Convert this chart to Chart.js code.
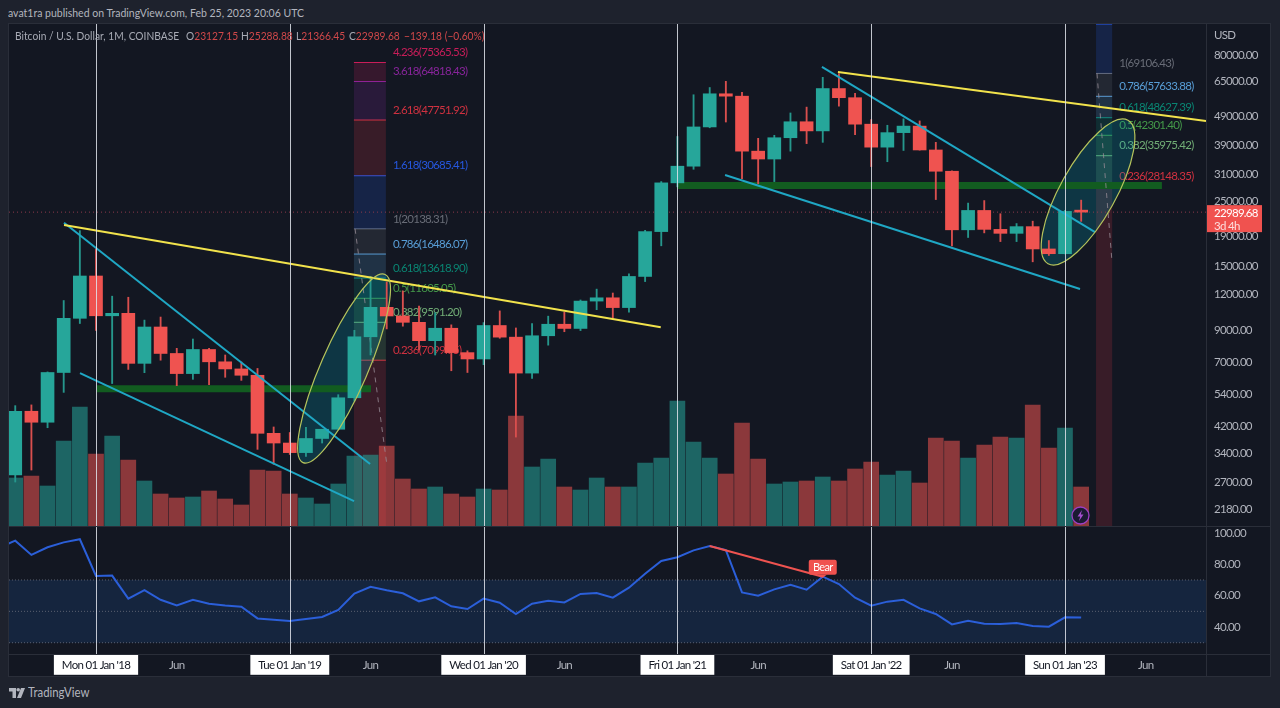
<!DOCTYPE html>
<html>
<head>
<meta charset="utf-8">
<title>Bitcoin / U.S. Dollar</title>
<script src="https://cdn.jsdelivr.net/npm/chart.js@4"></script>
<style>
    html, body { margin: 0; padding: 0; width: 1280px; height: 708px; overflow: hidden; background: #1e222d; font-family: "Lato", sans-serif; }
    #frame { position: absolute; left: 8px; top: 23px; width: 1263px; height: 654px; background: #131722; border: 1px solid #2a2e39; box-sizing: border-box; }
    canvas { position: absolute; }
    #publisher { position: absolute; left: 8px; top: 5px; font-size: 12px; color: #b2b5be; white-space: nowrap; transform: scaleX(0.875); transform-origin: left; }
    #legend { position: absolute; left: 15px; top: 29px; font-size: 11.5px; color: #a8abb5; white-space: nowrap; }
    #legend span { position: absolute; top: 0; transform: scaleX(0.89); transform-origin: left; }
    #legend i { font-style: normal; color: #d0484a; }
    .rule { position: absolute; background: #2a2e39; }
    #brand { position: absolute; left: 28px; top: 685px; font-size: 12.5px; color: #b2b5be; transform: scaleX(0.91); transform-origin: left; }
    #logo { position: absolute; left: 9px; top: 688px; }
    #bolt { position: absolute; left: 1071px; top: 506px; }
</style>
</head>
<body>
<div id="frame"></div>
<div id="publisher">avat1ra published on TradingView.com, Feb 25, 2023 20:06 UTC</div>
<canvas id="priceChart" width="1263" height="502" style="left:9px;top:24px"></canvas>
<canvas id="rsiChart" width="1263" height="150" style="left:9px;top:527px"></canvas>
<div class="rule" style="left:9px;top:526px;width:1262px;height:1px"></div>
<div class="rule" style="left:9px;top:654px;width:1262px;height:1px"></div>
<div class="rule" style="left:1206px;top:24px;width:1px;height:652px"></div>
<div id="legend">
    <span style="left:0">Bitcoin / U.S. Dollar, 1M, COINBASE</span>
    <span style="left:171px">O<i>23127.15</i></span>
    <span style="left:226px">H<i>25288.88</i></span>
    <span style="left:281px">L<i>21366.45</i></span>
    <span style="left:334px">C<i>22989.68</i></span>
    <span style="left:389px"><i>−139.18 (−0.60%)</i></span>
</div>
<svg id="bolt" width="19" height="19" viewBox="0 0 19 19">
    <circle cx="9.5" cy="9.5" r="8.5" fill="#1b1a33" stroke="#9c3fc4" stroke-width="1.3"/>
    <path d="M11 4 L6.5 10.5 H9.2 L8 15 L12.5 8.5 H9.8 Z" fill="#a64fd0"/>
</svg>
<svg id="logo" width="16" height="10" viewBox="0 0 16 10">
    <path d="M0 0 H7 V10 H3.5 V3.5 H0 Z" fill="#b2b5be"/>
    <circle cx="9.2" cy="1.8" r="1.8" fill="#b2b5be"/>
    <path d="M12 0 H16 L12 10 H8 Z" fill="#b2b5be"/>
</svg>
<div id="brand">TradingView</div>

<script>
const months = ["Aug 17", "Sep 17", "Oct 17", "Nov 17", "Dec 17", "Jan 18", "Feb 18", "Mar 18", "Apr 18", "May 18", "Jun 18", "Jul 18", "Aug 18", "Sep 18", "Oct 18", "Nov 18", "Dec 18", "Jan 19", "Feb 19", "Mar 19", "Apr 19", "May 19", "Jun 19", "Jul 19", "Aug 19", "Sep 19", "Oct 19", "Nov 19", "Dec 19", "Jan 20", "Feb 20", "Mar 20", "Apr 20", "May 20", "Jun 20", "Jul 20", "Aug 20", "Sep 20", "Oct 20", "Nov 20", "Dec 20", "Jan 21", "Feb 21", "Mar 21", "Apr 21", "May 21", "Jun 21", "Jul 21", "Aug 21", "Sep 21", "Oct 21", "Nov 21", "Dec 21", "Jan 22", "Feb 22", "Mar 22", "Apr 22", "May 22", "Jun 22", "Jul 22", "Aug 22", "Sep 22", "Oct 22", "Nov 22", "Dec 22", "Jan 23", "Feb 23"];
const opens = [2855, 4735, 4340, 6440, 9900, 13850, 10100, 10300, 6925, 9240, 7490, 6385, 7730, 7010, 6625, 6300, 3975, 3680, 3410, 3815, 4105, 5270, 8550, 10800, 10085, 9590, 8290, 9150, 7540, 7170, 9350, 8525, 6410, 8620, 9445, 9135, 11350, 11650, 10780, 13800, 19700, 29000, 33100, 45200, 58800, 57700, 37300, 35040, 41490, 47100, 43800, 61300, 57000, 46200, 38500, 43200, 45500, 37650, 31800, 19980, 23300, 20050, 19430, 20490, 17165, 16530, 23127.15];
const highs = [4950, 4980, 6470, 11400, 19850, 17170, 11800, 11700, 9760, 10000, 7800, 8400, 7800, 7400, 7000, 6650, 4180, 4000, 4170, 4105, 5400, 9000, 13800, 13200, 12300, 10900, 10350, 9400, 7650, 9570, 10500, 9170, 9500, 10070, 10400, 11450, 12480, 12100, 14100, 19900, 29300, 41900, 58350, 61800, 64900, 59500, 41300, 42300, 50500, 52900, 67000, 69000, 59000, 47900, 45800, 48200, 47400, 40000, 31900, 24700, 25200, 22700, 21000, 21400, 18350, 23300, 25288.88];
const lows = [2700, 2970, 4155, 5500, 9500, 9000, 5900, 6600, 6430, 7100, 5800, 6100, 5850, 6200, 6050, 3500, 3110, 3360, 3310, 3680, 4105, 5130, 7400, 9100, 9300, 7700, 7400, 6530, 6440, 6850, 8450, 3858, 6150, 8000, 8900, 8980, 10600, 9900, 10400, 13250, 17600, 28100, 32300, 44900, 47000, 30000, 28800, 29300, 37300, 39600, 40000, 53300, 42500, 33000, 34300, 37500, 37600, 25400, 17600, 18800, 19500, 18200, 18200, 15500, 16300, 16500, 21366.45];
const closes = [4735, 4340, 6440, 9900, 13850, 10100, 10300, 6925, 9240, 7490, 6385, 7730, 7010, 6625, 6300, 3975, 3680, 3410, 3815, 4105, 5270, 8550, 10800, 10085, 9590, 8290, 9150, 7540, 7170, 9350, 8525, 6410, 8620, 9445, 9135, 11350, 11650, 10780, 13800, 19700, 29000, 33100, 45200, 58800, 57700, 37300, 35040, 41490, 47100, 43800, 61300, 57000, 46200, 38500, 43200, 45500, 37650, 31800, 19980, 23300, 20050, 19430, 20490, 17165, 16530, 23125, 22989.68];
const volumes = [192, 200, 160, 340, 476, 288, 360, 264, 180, 128, 112, 116, 140, 108, 84, 224, 220, 128, 112, 88, 168, 280, 284, 320, 188, 148, 156, 128, 116, 148, 144, 440, 236, 268, 156, 144, 192, 156, 156, 252, 272, 500, 336, 272, 208, 412, 268, 168, 176, 180, 196, 180, 228, 256, 204, 220, 172, 352, 340, 272, 324, 356, 352, 484, 312, 392, 156];
// rsi starts one month before the first candle, that point is off the left edge
const rsiValues = [90.7, 95.1, 86.0, 90.9, 94.0, 96.0, 72.6, 72.8, 58.1, 63.6, 57.4, 53.8, 57.4, 54.9, 53.8, 53.0, 45.5, 44.7, 43.8, 45.1, 46.4, 50.9, 61.3, 65.7, 63.4, 61.5, 56.4, 58.9, 53.2, 51.5, 58.1, 55.5, 48.3, 54.9, 56.8, 55.7, 61.1, 61.7, 58.7, 65.1, 74.0, 82.1, 84.5, 88.9, 91.7, 89.1, 62.1, 60.0, 64.0, 67.0, 63.8, 72.1, 67.4, 58.7, 53.6, 56.2, 57.4, 51.9, 48.3, 41.7, 44.0, 42.1, 41.9, 42.6, 40.6, 40.2, 46.2, 46.0];

const priceTicks = [80000, 65000, 49000, 39000, 31000, 25000, 19000, 15000, 12000, 9000, 7000, 5400, 4200, 3400, 2700, 2180];
const rsiTicks = [100, 80, 60, 40];
const rsiLevels = [70, 50, 30];
const timeTickIndex = [5, 10, 17, 22, 29, 34, 41, 46, 53, 58, 65, 70];
const timeTickLabels = ["Mon 01 Jan '18", "Jun", "Tue 01 Jan '19", "Jun", "Wed 01 Jan '20", "Jun", "Fri 01 Jan '21", "Jun", "Sat 01 Jan '22", "Jun", "Sun 01 Jan '23", "Jun"];
const yearIndex = [5, 17, 29, 41, 53, 65];

// fib retracement blocks, low level to high level, first entry of prices is the bottom of the fill
const fibNames = ["0.236", "0.382", "0.5", "0.618", "0.786", "1", "1.618", "2.618", "3.618", "4.236"];
const fibColors = ["#f23645", "#81c784", "#4caf50", "#089981", "#64b5f6", "#787b86", "#2962ff", "#f23645", "#9c27b0", "#e91e63"];
const fibLeftRange = [20.97, 22.95];
const fibLeftPrices = [1905, 7099.75, 9591.20, 11605.05, 13618.90, 16486.07, 20138.31, 30685.41, 47751.92, 64818.43, 75365.53];
const fibRightRange = [66.92, 67.92];
const fibRightPrices = [1905, 28148.35, 35975.42, 42301.40, 48627.39, 57633.88, 69106.43, 102236];

// trend lines, [x, x] in candle positions and [price, price]
const yellowLeftX = [3.02, 39.97], yellowLeftY = [20760, 9230];
const yellowRightX = [50.94, 73.73], yellowRightY = [69900, 47370];
const cyanUpperLeftX = [3.02, 21.97], cyanUpperLeftY = [21130, 3115];
const cyanLowerLeftX = [4.01, 20.98], cyanLowerLeftY = [6410, 2320];
const cyanUpperRightX = [49.95, 66.86], cyanUpperRightY = [72740, 19630];
const cyanLowerRightX = [43.95, 65.93], cyanLowerRightY = [30880, 12490];
const greenLeftX = [5.06, 22.03], greenLeftY = [5660, 5660];
const greenRightX = [41.04, 71.0], greenRightY = [28400, 28400];
const dashLeftX = [21.04, 23.02], dashLeftY = [20138, 3071];
const dashRightX = [66.98, 67.91], dashRightY = [69106, 15495];
// ellipses, long axis ends
const ellipseLeftX = [17.82, 22.9], ellipseLeftY = [3150, 14020];
const ellipseRightX = [63.95, 68.9], ellipseRightY = [15270, 47660];
const bearX = [43, 50], bearY = [91.7, 72.1];

const xMin = -0.387;
const xMax = 73.73;
const upColor = "#26a69a";
const downColor = "#ef5350";
const axisText = "#b2b5be";
const axisFont = { family: "Lato", size: 11.5 };

function toPoints(xs, ys) {
    return xs.map((x, i) => ({ x: x, y: ys[i] }));
}

function hexAlpha(hex, alpha) {
    const n = parseInt(hex.slice(1), 16);
    return "rgba(" + (n >> 16) + "," + ((n >> 8) & 255) + "," + (n & 255) + "," + alpha + ")";
}

function lineSet(xs, ys, color, width, order, dash) {
    return {
        type: "line",
        data: toPoints(xs, ys),
        borderColor: color,
        borderWidth: width,
        borderDash: dash || [],
        pointRadius: 0,
        order: order,
    };
}

// the reference text is narrow, tighten it on the canvas too
const tightText = {
    id: "tightText",
    beforeUpdate(chart) { chart.ctx.letterSpacing = "-0.7px"; },
    beforeDraw(chart) { chart.ctx.letterSpacing = "-0.7px"; },
};

// white year markers, both panes
const yearLines = {
    id: "yearLines",
    afterDatasetsDraw(chart) {
        const ctx = chart.ctx;
        const area = chart.chartArea;
        ctx.save();
        ctx.strokeStyle = "rgba(225,228,235,0.85)";
        ctx.lineWidth = 1;
        yearIndex.forEach((v) => {
            const x = Math.round(chart.scales.x.getPixelForValue(v)) + 0.5;
            ctx.beginPath();
            ctx.moveTo(x, area.top);
            ctx.lineTo(x, area.bottom);
            ctx.stroke();
        });
        ctx.restore();
    },
};

function drawFib(chart, range, prices, labelX, withLabels) {
    const ctx = chart.ctx;
    const sx = chart.scales.x;
    const sy = chart.scales.y;
    const x0 = sx.getPixelForValue(range[0]);
    const x1 = sx.getPixelForValue(range[1]);
    ctx.save();
    ctx.textAlign = "left";
    ctx.textBaseline = "middle";
    ctx.font = "11.5px Lato";
    for (let i = 1; i < prices.length; i++) {
        const color = fibColors[i - 1];
        const yTop = sy.getPixelForValue(prices[i]);
        const yBottom = sy.getPixelForValue(prices[i - 1]);
        ctx.fillStyle = hexAlpha(color, 0.17);
        ctx.fillRect(x0, yTop, x1 - x0, yBottom - yTop);
        ctx.strokeStyle = hexAlpha(color, 0.85);
        ctx.lineWidth = 1;
        ctx.beginPath();
        ctx.moveTo(x0, yTop);
        ctx.lineTo(x1, yTop);
        ctx.stroke();
        if (withLabels[i - 1]) {
            ctx.fillStyle = hexAlpha(color, 0.85);
            ctx.fillText(fibNames[i - 1] + "(" + prices[i].toFixed(2) + ")", labelX, yTop - 10);
        }
    }
    ctx.restore();
}

function ellipsePath(chart, xs, ys, minor) {
    const ctx = chart.ctx;
    const ax = chart.scales.x.getPixelForValue(xs[0]);
    const bx = chart.scales.x.getPixelForValue(xs[1]);
    const ay = chart.scales.y.getPixelForValue(ys[0]);
    const by = chart.scales.y.getPixelForValue(ys[1]);
    ctx.beginPath();
    ctx.ellipse((ax + bx) / 2, (ay + by) / 2, Math.hypot(bx - ax, by - ay) / 2, minor, Math.atan2(by - ay, bx - ax), 0, Math.PI * 2);
}

const fibAndEllipse = {
    id: "fibAndEllipse",
    beforeDatasetsDraw(chart) {
        const ctx = chart.ctx;
        drawFib(chart, fibLeftRange, fibLeftPrices, chart.scales.x.getPixelForValue(fibLeftRange[1]) + 7, fibNames.map(() => true));
        drawFib(chart, fibRightRange, fibRightPrices, chart.scales.x.getPixelForValue(fibRightRange[1]) + 7, [true, true, true, true, true, true, false]);
        ctx.save();
        ctx.fillStyle = "rgba(0,170,190,0.22)";
        ellipsePath(chart, ellipseLeftX, ellipseLeftY, 23.5);
        ctx.fill();
        ellipsePath(chart, ellipseRightX, ellipseRightY, 27.8);
        ctx.fill();
        ctx.restore();
    },
    afterDatasetsDraw(chart) {
        const ctx = chart.ctx;
        ctx.save();
        ctx.strokeStyle = "#b6c45c";
        ctx.lineWidth = 1.2;
        ellipsePath(chart, ellipseLeftX, ellipseLeftY, 23.5);
        ctx.stroke();
        ellipsePath(chart, ellipseRightX, ellipseRightY, 27.8);
        ctx.stroke();
        ctx.restore();
    },
    afterDraw(chart) {
        // current price tag and the USD caption on the price scale
        const ctx = chart.ctx;
        const last = closes[closes.length - 1];
        const y = chart.scales.y.getPixelForValue(last);
        const left = chart.chartArea.right;
        ctx.save();
        ctx.fillStyle = "#f0524f";
        ctx.fillRect(left, y - 7, 56, 27);
        ctx.fillStyle = "#ffffff";
        ctx.font = "11.5px Lato";
        ctx.textAlign = "left";
        ctx.textBaseline = "middle";
        ctx.fillText(last.toFixed(2), left + 8, y + 1);
        ctx.fillStyle = "rgba(255,255,255,0.8)";
        ctx.fillText("3d 4h", left + 8, y + 14);
        ctx.fillStyle = axisText;
        ctx.fillText("USD", left + 8, 11);
        ctx.restore();
    },
};

const bearTag = {
    id: "bearTag",
    afterDatasetsDraw(chart) {
        const ctx = chart.ctx;
        const x = chart.scales.x.getPixelForValue(bearX[1]);
        const y = chart.scales.y.getPixelForValue(bearY[1]);
        ctx.save();
        ctx.fillStyle = "#f0524f";
        ctx.beginPath();
        ctx.roundRect(x - 14, y - 17, 28, 15, 2);
        ctx.fill();
        ctx.beginPath();
        ctx.moveTo(x - 4, y - 2);
        ctx.lineTo(x, y + 1);
        ctx.lineTo(x + 4, y - 2);
        ctx.fill();
        ctx.fillStyle = "#ffffff";
        ctx.font = "11px Lato";
        ctx.textAlign = "center";
        ctx.textBaseline = "middle";
        ctx.fillText("Bear", x, y - 9.5);
        ctx.restore();
    },
};

document.addEventListener("DOMContentLoaded", () => {
    const positions = months.map((m, i) => i);
    const isUp = closes.map((c, i) => c >= opens[i]);
    // fixed price scale width, and no room kept for the first and last tick
    const priceRight = (scale) => {
        scale.width = 66;
        scale.paddingTop = 0;
        scale.paddingBottom = 0;
    };

    new Chart(document.getElementById("priceChart").getContext("2d"), {
        type: "bar",
        data: {
            datasets: [
                {
                    data: positions.map((x, i) => ({ x: x, y: volumes[i] })),
                    yAxisID: "vol",
                    backgroundColor: isUp.map((up) => (up ? hexAlpha(upColor, 0.55) : hexAlpha(downColor, 0.55))),
                    barThickness: 15,
                    order: 9,
                },
                lineSet(greenLeftX, greenLeftY, "#125c20", 7, 8),
                lineSet(greenRightX, greenRightY, "#125c20", 7, 8),
                lineSet(dashLeftX, dashLeftY, "rgba(150,140,150,0.8)", 1, 7, [5, 5]),
                lineSet(dashRightX, dashRightY, "rgba(150,140,150,0.8)", 1, 7, [5, 5]),
                lineSet([xMin, xMax], [closes[66], closes[66]], "#8c3a4c", 1, 6, [1, 3]),
                {
                    data: positions.map((x, i) => ({ x: x, y: [lows[i], highs[i]] })),
                    backgroundColor: isUp.map((up) => (up ? "#26978c" : "#d94f4e")),
                    barThickness: 1.2,
                    order: 5,
                },
                {
                    data: positions.map((x, i) => ({ x: x, y: [opens[i], closes[i]] })),
                    backgroundColor: isUp.map((up) => (up ? upColor : downColor)),
                    barThickness: 13,
                    minBarLength: 2,
                    order: 4,
                },
                lineSet(cyanUpperLeftX, cyanUpperLeftY, "#1fa7c4", 2, 3),
                lineSet(cyanLowerLeftX, cyanLowerLeftY, "#1fa7c4", 2, 3),
                lineSet(cyanUpperRightX, cyanUpperRightY, "#1fa7c4", 2, 3),
                lineSet(cyanLowerRightX, cyanLowerRightY, "#1fa7c4", 2, 3),
                lineSet(yellowLeftX, yellowLeftY, "#f2e34c", 2, 2),
                lineSet(yellowRightX, yellowRightY, "#f2e34c", 2, 2),
            ],
        },
        options: {
            responsive: false,
            animation: false,
            devicePixelRatio: 1,
            layout: { padding: 0, autoPadding: false },
            datasets: { bar: { grouped: false } },
            plugins: { legend: { display: false }, tooltip: { enabled: false } },
            scales: {
                x: { type: "linear", min: xMin, max: xMax, offset: false, display: false, grid: { display: false } },
                y: {
                    type: "logarithmic",
                    position: "right",
                    min: 1905,
                    max: 102300,
                    afterBuildTicks: (scale) => { scale.ticks = priceTicks.map((v) => ({ value: v })); },
                    afterFit: priceRight,
                    grid: { display: false, drawTicks: false },
                    border: { display: false },
                    ticks: {
                        autoSkip: false,
                        padding: 8,
                        crossAlign: "near",
                        color: axisText,
                        font: axisFont,
                        callback: (v) => Number(v).toFixed(2),
                    },
                },
                vol: { type: "linear", min: 0, max: 2008, display: false, grid: { display: false } },
            },
        },
        plugins: [tightText, fibAndEllipse, yearLines],
    });

    new Chart(document.getElementById("rsiChart").getContext("2d"), {
        type: "line",
        data: {
            datasets: [
                {
                    data: toPoints([xMin, xMax], [rsiLevels[0], rsiLevels[0]]),
                    borderWidth: 0,
                    pointRadius: 0,
                    fill: { value: rsiLevels[2] },
                    backgroundColor: "rgba(33,105,200,0.17)",
                    order: 6,
                },
                lineSet([xMin, xMax], [rsiLevels[0], rsiLevels[0]], "#5a6070", 1, 5, [1, 2]),
                lineSet([xMin, xMax], [rsiLevels[1], rsiLevels[1]], "#5a6070", 1, 5, [1, 2]),
                lineSet([xMin, xMax], [rsiLevels[2], rsiLevels[2]], "#5a6070", 1, 5, [1, 2]),
                lineSet(rsiValues.map((v, i) => i - 1), rsiValues, "#2b5fd9", 2, 2),
                lineSet(bearX, bearY, "#ef5350", 2, 1),
            ],
        },
        options: {
            responsive: false,
            animation: false,
            devicePixelRatio: 1,
            layout: { padding: 0, autoPadding: false },
            plugins: { legend: { display: false }, tooltip: { enabled: false } },
            scales: {
                x: {
                    type: "linear",
                    min: xMin,
                    max: xMax,
                    afterBuildTicks: (scale) => { scale.ticks = timeTickIndex.map((v) => ({ value: v })); },
                    afterFit: (scale) => { scale.height = 23; },
                    grid: { display: false, drawTicks: false },
                    border: { display: false },
                    ticks: {
                        autoSkip: false,
                        maxRotation: 0,
                        padding: 4,
                        font: axisFont,
                        color: (c) => (yearIndex.includes(c.tick.value) ? "#131722" : axisText),
                        showLabelBackdrop: (c) => yearIndex.includes(c.tick.value),
                        backdropColor: "#ffffff",
                        backdropPadding: { x: 8, y: 3 },
                        callback: (v) => timeTickLabels[timeTickIndex.indexOf(v)],
                    },
                },
                y: {
                    type: "linear",
                    position: "right",
                    min: 22.8,
                    max: 103.8,
                    afterBuildTicks: (scale) => { scale.ticks = rsiTicks.map((v) => ({ value: v })); },
                    afterFit: priceRight,
                    grid: { display: false, drawTicks: false },
                    border: { display: false },
                    ticks: {
                        autoSkip: false,
                        padding: 8,
                        crossAlign: "near",
                        color: axisText,
                        font: axisFont,
                        callback: (v) => Number(v).toFixed(2),
                    },
                },
            },
        },
        plugins: [tightText, yearLines, bearTag],
    });
});
</script>
</body>
</html>
